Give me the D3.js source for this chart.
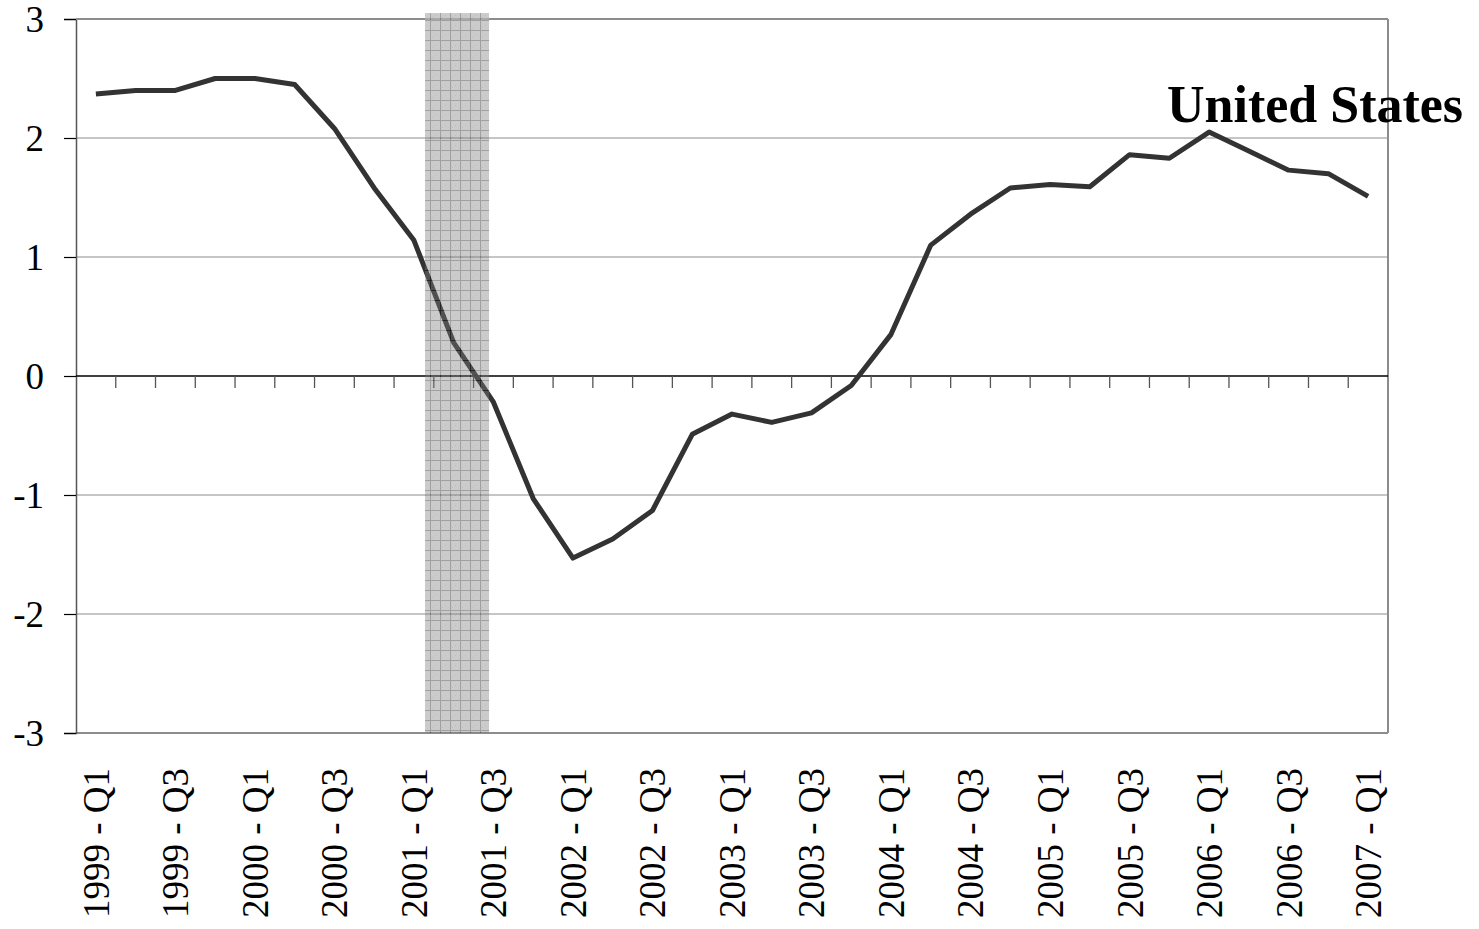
<!DOCTYPE html>
<html>
<head>
<meta charset="utf-8">
<script src="https://cdn.jsdelivr.net/npm/d3@7"></script>
<style>
  body { margin: 0; background: #fff; }
  svg { display: block; }
  text { font-family: "Liberation Serif", "Times New Roman", serif; fill: #000; }
</style>
</head>
<body>
<svg id="chart" width="1479" height="929"></svg>
<script>
// quarters shown on the axis
var quarters = [];
for (var yr = 1999; yr <= 2007; yr++) {
  for (var q = 1; q <= 4; q++) {
    if (yr == 2007 && q > 1) break;
    quarters.push(yr + ' - Q' + q);
  }
}

// series
var values = [2.37, 2.40, 2.40, 2.50, 2.50, 2.45, 2.08, 1.58,
              1.14, 0.28, -0.22, -1.03, -1.53, -1.37, -1.13, -0.49,
              -0.32, -0.39, -0.31, -0.08, 0.35, 1.10, 1.36, 1.58,
              1.61, 1.59, 1.86, 1.83, 2.05, 1.89, 1.73, 1.70, 1.51];

var yTicks = [-3, -2, -1, 0, 1, 2, 3];
// recession band, in quarter index units (8 = 2001 - Q1)
var recession = [8.28, 9.89];
var seriesLabel = 'United States';

var svg = d3.select('#chart'),
    plotLeft = 76, plotRight = 1388, plotTop = 19, plotBottom = 733;

var x = d3.scaleBand()
  .domain(quarters)
  .range([plotLeft, plotRight])
  .paddingInner(0)
  .paddingOuter(0);

var xIdx = d3.scaleLinear()
  .domain([-0.5, quarters.length - 0.5])
  .range([plotLeft, plotRight]);

var yScale = d3.scaleLinear()
  .domain([-3, 3])
  .range([plotBottom, plotTop]);

// shade pattern (checked grey)
var defs = svg.append('defs');
var pat = defs.append('pattern')
  .attr('id', 'shade')
  .attr('patternUnits', 'userSpaceOnUse')
  .attr('width', 10)
  .attr('height', 10);
pat.append('rect').attr('width', 10).attr('height', 10).attr('fill', '#7d7d7d');
pat.append('rect').attr('x', 0).attr('y', 0).attr('width', 1).attr('height', 10).attr('fill', '#111');
pat.append('rect').attr('x', 0).attr('y', 0).attr('width', 10).attr('height', 1).attr('fill', '#111');
pat.append('rect').attr('x', 5).attr('y', 5).attr('width', 1).attr('height', 1).attr('fill', '#5a5a5a');
pat.append('rect').attr('x', 2).attr('y', 7).attr('width', 1).attr('height', 1).attr('fill', '#5a5a5a');

// horizontal gridlines
svg.append('g')
  .selectAll('line')
  .data(yTicks.filter(function(d) { return d != 0 && d != -3; }))
  .enter()
  .append('line')
  .attr('x1', plotLeft).attr('x2', plotRight)
  .attr('y1', function(d) { return yScale(d); })
  .attr('y2', function(d) { return yScale(d); })
  .style('stroke', '#8c8c8c')
  .style('stroke-width', 1);

// frame
svg.append('line')
  .attr('x1', plotLeft).attr('x2', plotRight).attr('y1', plotBottom).attr('y2', plotBottom)
  .style('stroke', '#8c8c8c').style('stroke-width', 2);
svg.append('line')
  .attr('x1', plotRight).attr('x2', plotRight).attr('y1', plotTop).attr('y2', plotBottom)
  .style('stroke', '#8c8c8c').style('stroke-width', 2);

// y axis
var yAxis = svg.append('g')
  .attr('transform', 'translate(' + plotLeft + ',0)')
  .call(d3.axisLeft(yScale).tickValues(yTicks).tickSize(12).tickPadding(20)
    .tickFormat(function(d) { return String(d); }));
yAxis.select('.domain').style('stroke', '#555').style('stroke-width', 1.5);
yAxis.selectAll('.tick line').style('stroke', '#000').style('stroke-width', 1.2);
yAxis.selectAll('.tick text')
  .style('font-size', '37px')
  .style('font-family', '"Liberation Serif", serif')
  .attr('dy', '0.33em');

// zero line with ticks on category boundaries
var zeroAxis = svg.append('g')
  .attr('transform', 'translate(0,' + yScale(0) + ')');
zeroAxis.append('line')
  .attr('x1', plotLeft).attr('x2', plotRight).attr('y1', 0).attr('y2', 0)
  .style('stroke', '#000').style('stroke-width', 1.5);
zeroAxis.selectAll('line.tk')
  .data(d3.range(1, quarters.length))
  .enter()
  .append('line')
  .attr('class', 'tk')
  .attr('x1', function(d) { return xIdx(d - 0.5); })
  .attr('x2', function(d) { return xIdx(d - 0.5); })
  .attr('y1', 0).attr('y2', 12)
  .style('stroke', '#555')
  .style('stroke-width', 1.3);

// the line
var line = d3.line()
  .x(function(d, i) { return x(quarters[i]) + x.bandwidth() / 2; })
  .y(function(d) { return yScale(d); });

svg.append('path')
  .datum(values)
  .attr('d', line)
  .attr('fill', 'none')
  .style('stroke', '#333')
  .style('stroke-width', 5)
  .style('stroke-linejoin', 'round');

// recession shading, drawn on top
svg.append('rect')
  .attr('x', xIdx(recession[0]))
  .attr('width', xIdx(recession[1]) - xIdx(recession[0]))
  .attr('y', yScale(3.05))
  .attr('height', yScale(-3) - yScale(3.05))
  .attr('fill', 'url(#shade)')
  .style('opacity', 0.4);

// top border outside the shade
svg.append('line')
  .attr('x1', plotLeft).attr('x2', xIdx(recession[0])).attr('y1', plotTop).attr('y2', plotTop)
  .style('stroke', '#8c8c8c').style('stroke-width', 2);
svg.append('line')
  .attr('x1', xIdx(recession[1])).attr('x2', plotRight).attr('y1', plotTop).attr('y2', plotTop)
  .style('stroke', '#8c8c8c').style('stroke-width', 2);

// x labels, every other quarter
svg.append('g')
  .selectAll('text')
  .data(quarters.filter(function(d, i) { return i % 2 == 0; }))
  .enter()
  .append('text')
  .attr('transform', function(d) {
    return 'translate(' + (x(d) + x.bandwidth() / 2) + ',768) rotate(-90)';
  })
  .attr('text-anchor', 'end')
  .attr('dy', '0.35em')
  .style('font-size', '37px')
  .text(function(d) { return d; });

// series label
svg.append('text')
  .attr('x', 1167)
  .attr('y', 122)
  .style('font-size', '52px')
  .style('font-weight', 'bold')
  .text(seriesLabel);
</script>
</body>
</html>
